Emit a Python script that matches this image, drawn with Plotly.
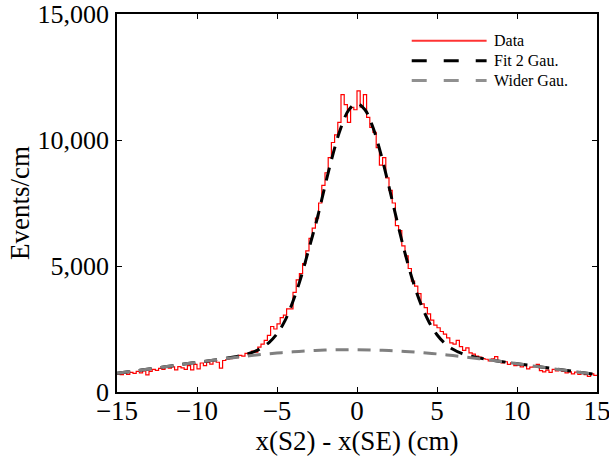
import numpy as np
import plotly.graph_objects as go

# ---- data ----
bin_width = 0.2
data_counts = [
    720, 690, 760, 700, 780, 740, 820, 760, 840, 680,
    820, 900, 860, 940, 900, 980, 950, 1000, 880, 1010,
    960, 900, 1050, 880, 1100, 920, 1150, 1050, 1180, 1110,
    1240, 1180, 950, 1250, 1290,
    1320, 1400, 1360, 1450, 1420, 1530, 1480, 1620, 1580,
    1780, 1900, 2050, 2250, 2600, 2500, 2700, 2950, 3050, 3300,
    3300, 3950, 4450, 4700, 5100, 5600, 6100, 6500, 6900, 7500,
    8200, 8700, 9300, 9900, 10200, 10700,
    11800, 11400, 10700, 11300, 11200,
    11950, 11300, 11800, 10900,
    10500, 10300, 9700, 9000, 9300, 8500, 8000, 7500, 6600, 6400,
    5800, 5400, 4900, 4400, 4200, 3900, 3500, 3350, 3100, 2850,
    2650, 2550, 2400, 2300, 2150, 1950, 1900, 2050, 1800, 1650,
    1750, 1550, 1500, 1420, 1380, 1330,
    1300, 1230, 1320, 1400, 1250, 1150, 1200, 1100, 1160, 1050,
    1080, 1000, 1060, 920, 990, 1000, 1100, 850, 800, 870,
    780, 900, 840, 880, 820, 760, 800, 720, 790, 700,
    760, 690, 620, 720, 660,
]

fit_x = [-15, -14, -13, -12, -11, -10, -9,
         -8, -7.5, -7, -6.5, -6, -5.5, -5, -4.5, -4, -3.5, -3, -2.5, -2, -1.5, -1, -0.5,
         0, 0.5, 1, 1.5, 2, 2.5, 3, 3.5, 4, 4.5, 5, 5.5, 6, 6.5, 7, 7.5, 8,
         9, 10, 11, 12, 13, 14, 15]
fit_y = [742, 826, 913, 1001, 1090, 1177, 1262,
         1357, 1412, 1484, 1583, 1734, 1962, 2308, 2830, 3600, 4550, 5700, 6850, 8180, 9440, 10500, 11203,
         11450, 11199, 10492, 9425, 8144, 6794, 5512, 4388, 3475, 2777, 2273, 1925, 1694, 1541, 1439, 1365, 1309,
         1211, 1125, 1036, 948, 861, 776, 693]

wide_x = [-15, -14, -13, -12, -11, -10, -9, -8, -7, -6, -5, -4, -3, -2, -1, 0,
          1, 2, 3, 4, 5, 6, 7, 8, 9, 10, 11, 12, 13, 14, 15]
wide_y = [742, 826, 913, 1001, 1090, 1177, 1262, 1343, 1418, 1486, 1546, 1595, 1634, 1662, 1677, 1680,
          1669, 1647, 1612, 1566, 1511, 1446, 1373, 1295, 1211, 1125, 1036, 948, 861, 776, 693]

x_tick_vals = [-15, -10, -5, 0, 5, 10, 15]
x_tick_text = ["\u221215", "\u221210", "\u22125", "0", "5", "10", "15"]
y_tick_vals = [0, 5000, 10000, 15000]
y_tick_text = ["0", "5,000", "10,000", "15,000"]

legend_names = ["Data", "Fit 2 Gau.", "Wider Gau."]

# ---- figure ----
FONT = "Liberation Serif, Times New Roman, serif"
n = len(data_counts)
edges = -15 + bin_width * np.arange(n + 1)
step_y = list(data_counts) + [data_counts[-1]]

fig = go.Figure()
fig.add_trace(go.Scatter(x=edges, y=step_y, mode="lines", line_shape="hv",
                         line=dict(color="#ff0000", width=1.2), name=legend_names[0]))
fig.add_trace(go.Scatter(x=fit_x, y=fit_y, mode="lines", line_shape="spline",
                         line=dict(color="black", width=3, dash="13px,9px"), name=legend_names[1]))
fig.add_trace(go.Scatter(x=wide_x, y=wide_y, mode="lines", line_shape="spline",
                         line=dict(color="#808080", width=3, dash="13px,9px"), name=legend_names[2]))

# manual legend (long sample lines like the reference)
leg_rows = [0.929, 0.876, 0.824]
leg_styles = [dict(color="#ff3333", width=2), dict(color="black", width=3, dash="15px,17px"),
              dict(color="#909090", width=3, dash="15px,17px")]
shapes = []
annotations = []
for yy, st, name in zip(leg_rows, leg_styles, legend_names):
    shapes.append(dict(type="line", xref="paper", yref="paper", x0=0.614, x1=0.770,
                       y0=yy, y1=yy, line=st))
    annotations.append(dict(xref="paper", yref="paper", x=0.781, y=yy, text=name,
                            showarrow=False, xanchor="left", yanchor="middle",
                            font=dict(family=FONT, size=16, color="black")))

axis_common = dict(showline=True, linecolor="black", linewidth=1.5, mirror="ticks",
                   ticks="inside", ticklen=5, tickwidth=1, tickcolor="black",
                   showgrid=False, zeroline=False, automargin=False,
                   ticklabeloverflow="allow")

fig.update_layout(
    width=609, height=459,
    margin=dict(l=117, r=12, t=14, b=67, autoexpand=False),
    plot_bgcolor="white", paper_bgcolor="white",
    showlegend=False,
    shapes=shapes, annotations=annotations,
    xaxis=dict(range=[-15, 15], tickvals=x_tick_vals, ticktext=x_tick_text,
               tickfont=dict(family=FONT, size=27, color="black"), ticklabelstandoff=-6,
               title=dict(text="x(S2) - x(SE) (cm)", font=dict(family=FONT, size=27, color="black"), standoff=0),
               **axis_common),
    yaxis=dict(range=[0, 15000], tickvals=y_tick_vals, ticktext=y_tick_text,
               tickfont=dict(family=FONT, size=26, color="black"), ticklabelstandoff=1,
               title=dict(text="Events/cm", font=dict(family=FONT, size=27, color="black"), standoff=0),
               **axis_common),
)

fig.write_html("out.html", config={"displayModeBar": False},
               post_script="document.body.style.margin='0';document.body.style.overflow='hidden';")
